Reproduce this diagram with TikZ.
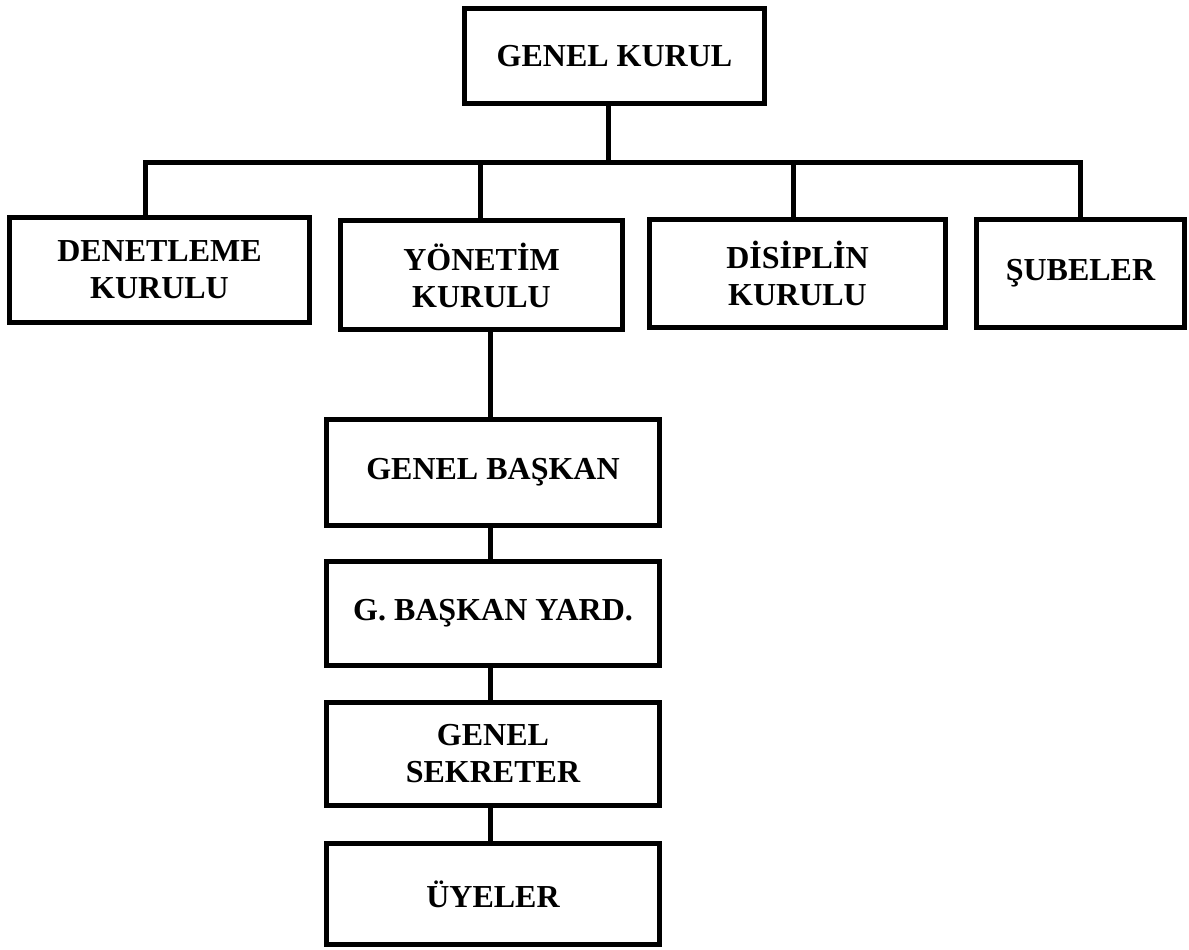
\documentclass[tikz,border=0pt]{standalone}
\usepackage{fontspec}
\setmainfont{Liberation Serif}
\begin{document}
\begin{tikzpicture}[x=1pt,y=-1pt,
  unit/.style={draw=black, line width=5pt, rectangle, inner sep=0pt,
    align=center, font=\fontsize{32}{37}\selectfont\bfseries},
  link/.style={draw=black, line width=5pt, line join=miter}]
\useasboundingbox (0,0) rectangle (1189,950);

% top level
\node[unit, minimum width=300pt, minimum height=95pt] (gk) at (614.5,56) {GENEL KURUL};

% boards
\node[unit, minimum width=300pt, minimum height=105pt] (den) at (159.5,270) {DENETLEME\\KURULU};
\node[unit, minimum width=282pt, minimum height=109pt] (yon) at (481.5,275) {YÖNETİM\\KURULU};
\node[unit, minimum width=296pt, minimum height=108pt] (dis) at (797.5,273.5) {DİSİPLİN\\KURULU};
\node[unit, minimum width=208pt, minimum height=108pt] (sub) at (1080.5,273.5) {ŞUBELER};

% executive chain
\node[unit, minimum width=333pt, minimum height=106pt] (gb) at (493,472.5) {GENEL BAŞKAN};
\node[unit, minimum width=333pt, minimum height=104pt] (gby) at (493,613.5) {G. BAŞKAN YARD.};
\node[unit, minimum width=333pt, minimum height=103pt] (gs) at (493,754) {GENEL\\SEKRETER};
\node[unit, minimum width=333pt, minimum height=101pt] (uy) at (493,894) {ÜYELER};

% bus points
\coordinate (b0) at (608,162);
\coordinate (b1) at (145,162);
\coordinate (b2) at (480,162);
\coordinate (b3) at (793,162);
\coordinate (b4) at (1080,162);
\coordinate (c0) at (490,0);

\draw[link] (b0 |- gk.south) -- (b0);
\draw[link] (b1 |- den.north) -- (b1) -- (b4) -- (b4 |- sub.north);
\draw[link] (b2) -- (b2 |- yon.north);
\draw[link] (b3) -- (b3 |- dis.north);

\draw[link] (c0 |- yon.south) -- (c0 |- gb.north);
\draw[link] (c0 |- gb.south) -- (c0 |- gby.north);
\draw[link] (c0 |- gby.south) -- (c0 |- gs.north);
\draw[link] (c0 |- gs.south) -- (c0 |- uy.north);
\end{tikzpicture}
\end{document}
